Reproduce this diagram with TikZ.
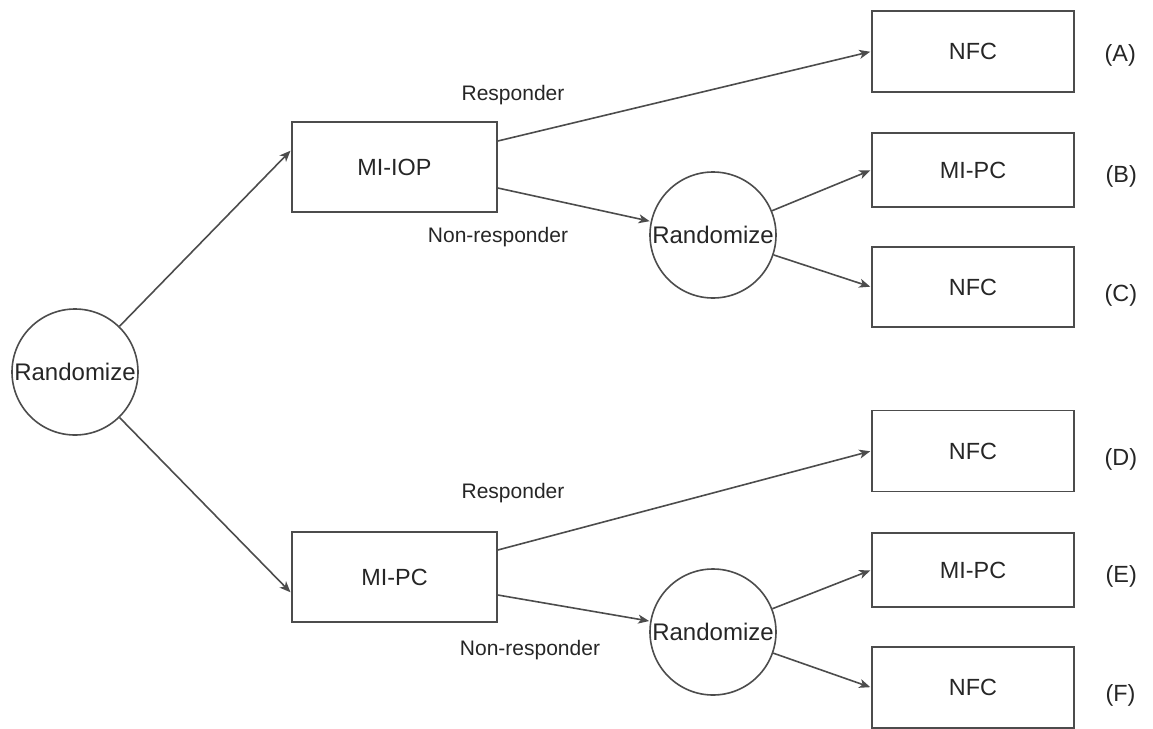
\documentclass[tikz,border=0pt]{standalone}
\usepackage{fontspec}
\setmainfont{Liberation Sans}
\usepackage{tikz}
\usetikzlibrary{positioning}
\usetikzlibrary{arrows.meta}

\begin{document}
\begin{tikzpicture}[->,>={Stealth[length=5.5pt,width=4.5pt,inset=1.5pt]},shorten >=0.5pt,
                    x=0.5pt,y=-0.5pt,
                    line width=0.8pt,draw=black!70,text=black!85,
                    arm/.style={draw,rectangle,inner sep=0pt,minimum width=102.5pt,
                                minimum height=45pt,font=\fontsize{11.7}{14}\selectfont},
                    leaf/.style={draw,rectangle,inner sep=0pt,minimum width=101pt,
                                 minimum height=40.5pt,font=\fontsize{11.7}{14}\selectfont},
                    randnode/.style={draw,circle,inner sep=0pt,minimum size=63pt,
                                     font=\fontsize{12}{14}\selectfont},
                    resp/.style={font=\fontsize{10.5}{12}\selectfont},
                    tag/.style={inner sep=0pt,font=\fontsize{11.7}{14}\selectfont}]
\useasboundingbox (0,0) rectangle (1153,729);
\node[randnode] (r0) at (75,372) {Randomize};
\node[arm] (miiop) at (394.5,167) {MI-IOP};
\node[arm] (mipc) at (394.5,577) {MI-PC};
\node[randnode] (r1) at (713,235) {Randomize};
\node[randnode] (r2) at (713,632) {Randomize};
\node[leaf] (nA) at (973,51.5) {NFC};
\node[leaf,minimum height=37pt] (nB) at (973,170) {MI-PC};
\node[leaf,minimum height=40pt] (nC) at (973,287) {NFC};
\node[leaf] (nD) at (973,451) {NFC};
\node[leaf,minimum height=37pt] (nE) at (973,570) {MI-PC};
\node[leaf] (nF) at (973,687.5) {NFC};
% outcome tags
\node[tag,right=14.5pt of nA,yshift=-2pt] (tA) {(A)};
\node[tag,right=15pt of nB,yshift=-3pt] (tB) {(B)};
\node[tag,right=14.5pt of nC,yshift=-4pt] (tC) {(C)};
\node[tag,right=14.5pt of nD,yshift=-4pt] (tD) {(D)};
\node[tag,right=15pt of nE,yshift=-3pt] (tE) {(E)};
\node[tag,right=15pt of nF,yshift=-4pt] (tF) {(F)};
% response labels
\node[resp] (respT) at (513,95) {Responder};
\node[resp] (nonrespT) at (498,237) {Non-responder};
\node[resp] (respB) at (513,493) {Responder};
\node[resp] (nonrespB) at (530,650) {Non-responder};
\path (r0) edge ([yshift=8.5pt]miiop.west)
           edge ([yshift=-8pt]mipc.west)
      ([yshift=13pt]miiop.east) edge (nA.west)
      ([yshift=-10.5pt]miiop.east) edge (r1)
      (r1) edge (nB.west)
           edge (nC.west)
      ([yshift=13.5pt]mipc.east) edge (nD.west)
      ([yshift=-9pt]mipc.east) edge (r2)
      (r2) edge (nE.west)
           edge (nF.west);
\end{tikzpicture}
\end{document}
